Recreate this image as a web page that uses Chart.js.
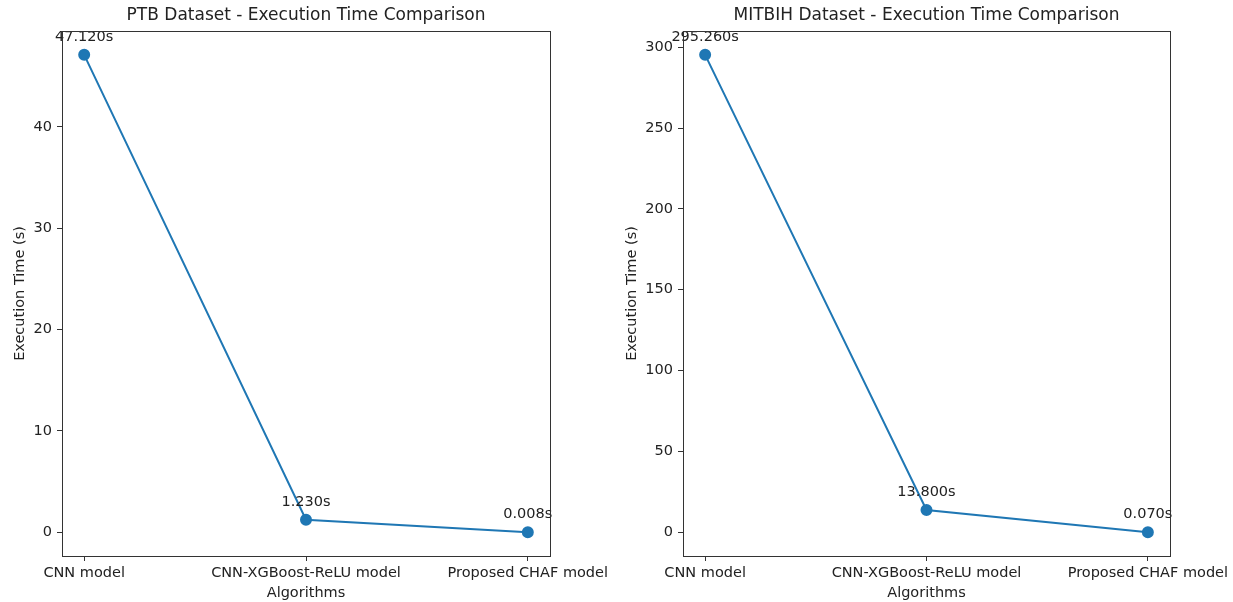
<!DOCTYPE html>
<html>
<head>
<meta charset="utf-8">
<script src="https://cdn.jsdelivr.net/npm/chart.js@4"></script>
<style>
  html, body { margin: 0; padding: 0; background: #fff; }
  .wrap { position: absolute; top: 0; height: 602px; }
  #w1 { left: 0; width: 616px; }
  #w2 { left: 616px; width: 617px; }
</style>
</head>
<body>
<div class="wrap" id="w1"><canvas id="c1"></canvas></div>
<div class="wrap" id="w2"><canvas id="c2"></canvas></div>
<script>
const categories = ["CNN model", "CNN-XGBoost-ReLU model", "Proposed CHAF model"];
const ptbTimes = [47.12, 1.23, 0.008];
const mitbihTimes = [295.26, 13.8, 0.07];
const ptbTicks = [0, 10, 20, 30, 40];
const mitbihTicks = [0, 50, 100, 150, 200, 250, 300];
const ptbTitle = "PTB Dataset - Execution Time Comparison";
const mitbihTitle = "MITBIH Dataset - Execution Time Comparison";

const FONT = "'DejaVu Sans', sans-serif";
const TXT = '#222';
const BLUE = '#1f77b4';

const framePlugin = {
  id: 'frame',
  afterDraw(chart) {
    const a = chart.chartArea, ctx = chart.ctx;
    ctx.save();
    ctx.strokeStyle = '#333';
    ctx.lineWidth = 1;
    ctx.strokeRect(Math.round(a.left) + 0.5, Math.round(a.top) + 0.5,
                   Math.round(a.right - a.left), Math.round(a.bottom - a.top));
    ctx.restore();
  }
};

const axesTitlePlugin = {
  id: 'axesTitle',
  afterDraw(chart, args, opts) {
    const a = chart.chartArea, ctx = chart.ctx;
    ctx.save();
    ctx.font = "17px " + FONT;
    ctx.fillStyle = TXT;
    ctx.textAlign = 'center';
    ctx.textBaseline = 'middle';
    ctx.fillText(opts.text, (a.left + a.right) / 2, 16);
    ctx.restore();
  }
};

const labelPlugin = {
  id: 'valueLabels',
  afterDatasetsDraw(chart) {
    const ctx = chart.ctx;
    const meta = chart.getDatasetMeta(0);
    const vals = chart.data.datasets[0].data;
    ctx.save();
    ctx.font = "14.5px " + FONT;
    ctx.fillStyle = TXT;
    ctx.textAlign = 'center';
    ctx.textBaseline = 'alphabetic';
    meta.data.forEach((pt, i) => {
      ctx.fillText(vals[i].y.toFixed(3) + 's', pt.x, pt.y - 14);
    });
    ctx.restore();
  }
};

function makeChart(id, values, ticks, title, yAxisWidth, yTitlePad, rightPad) {
  const lo = Math.min(...values), hi = Math.max(...values);
  const span = hi - lo;
  return new Chart(document.getElementById(id), {
    type: 'line',
    data: {
      datasets: [{
        data: values.map((v, i) => ({ x: i, y: v })),
        borderColor: BLUE,
        backgroundColor: BLUE,
        borderWidth: 2,
        pointRadius: 5,
        pointHoverRadius: 5,
        pointBackgroundColor: BLUE,
        pointBorderColor: BLUE,
        tension: 0,
        fill: false
      }]
    },
    options: {
      responsive: true,
      maintainAspectRatio: false,
      animation: false,
      events: [],
      layout: { padding: { left: 0, right: rightPad, top: 31, bottom: 0 } },
      plugins: {
        legend: { display: false },
        tooltip: { enabled: false },
        title: { display: false },
        axesTitle: { text: title }
      },
      scales: {
        x: {
          type: 'linear',
          min: -0.1,
          max: 2.1,
          afterBuildTicks(scale) { scale.ticks = categories.map((c, i) => ({ value: i })); },
          afterFit(scale) { scale.height = 46; scale.paddingRight = 0; scale.paddingLeft = 0; },
          ticks: {
            color: TXT,
            font: { family: FONT, size: 14.5 },
            padding: 4,
            maxRotation: 0,
            autoSkip: false,
            callback: (v) => categories[v]
          },
          grid: { display: true, drawOnChartArea: false, drawTicks: true, tickLength: 5, color: '#333' },
          border: { display: false },
          title: {
            display: true,
            text: 'Algorithms',
            color: TXT,
            font: { family: FONT, size: 14.5 },
            padding: { top: 0, bottom: 0 }
          }
        },
        y: {
          type: 'linear',
          min: lo - 0.05 * span,
          max: hi + 0.05 * span,
          afterBuildTicks(scale) { scale.ticks = ticks.map(v => ({ value: v })); },
          afterFit(scale) { scale.width = yAxisWidth; scale.paddingTop = 0; scale.paddingBottom = 0; },
          ticks: {
            color: TXT,
            font: { family: FONT, size: 14.5 },
            padding: 5
          },
          grid: { display: true, drawOnChartArea: false, drawTicks: true, tickLength: 5, color: '#333' },
          border: { display: false },
          title: {
            display: true,
            text: 'Execution Time (s)',
            color: TXT,
            font: { family: FONT, size: 14.5 },
            padding: { top: yTitlePad, bottom: yTitlePad }
          }
        }
      }
    },
    plugins: [framePlugin, axesTitlePlugin, labelPlugin]
  });
}

makeChart('c1', ptbTimes, ptbTicks, ptbTitle, 62, 12, 66);
makeChart('c2', mitbihTimes, mitbihTicks, mitbihTitle, 67, 8, 63);
</script>
</body>
</html>
